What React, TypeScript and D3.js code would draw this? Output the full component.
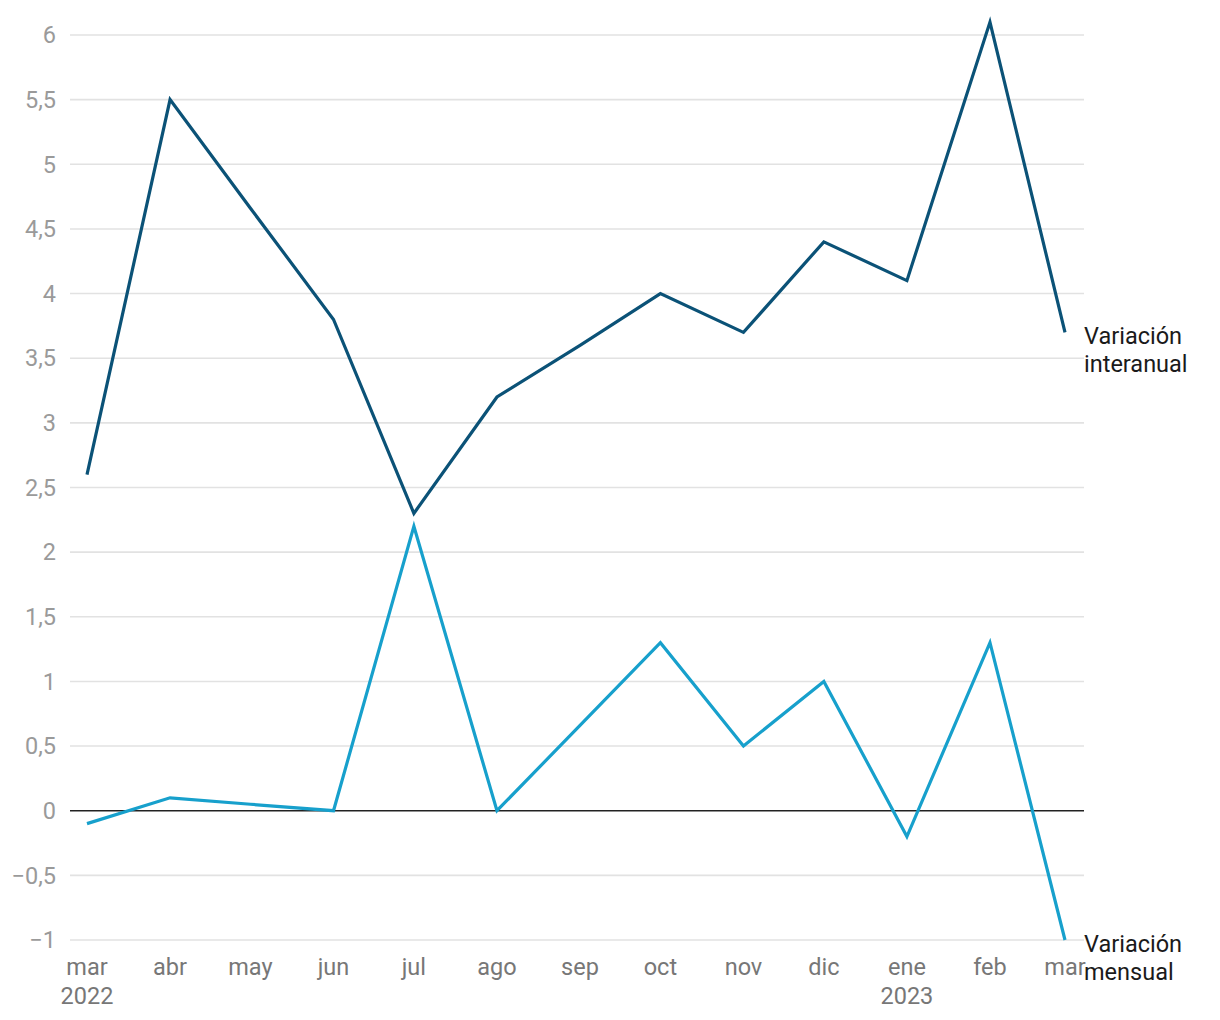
import React from 'react';
import * as d3 from 'd3';

const months = ['2022-03', '2022-04', '2022-05', '2022-06', '2022-07', '2022-08', '2022-09', '2022-10', '2022-11', '2022-12', '2023-01', '2023-02', '2023-03'];
const monthLabels = ['mar', 'abr', 'may', 'jun', 'jul', 'ago', 'sep', 'oct', 'nov', 'dic', 'ene', 'feb', 'mar'];
const yearLabels = ['2022', '', '', '', '', '', '', '', '', '', '2023', '', ''];
const interanual = [2.6, 5.5, 4.66, 3.8, 2.3, 3.2, 3.6, 4.0, 3.7, 4.4, 4.1, 6.1, 3.7];
const mensual = [-0.1, 0.1, 0.05, 0.0, 2.2, 0.0, 0.66, 1.3, 0.5, 1.0, -0.2, 1.3, -1.0];
const yTicks = [-1, -0.5, 0, 0.5, 1, 1.5, 2, 2.5, 3, 3.5, 4, 4.5, 5, 5.5, 6];

const W = 1220;
const H = 1020;
const left = 70;
const right = 1084;

const fmt = (v: number) => (v < 0 ? '\u2212' : '') + String(Math.abs(v)).replace('.', ',');

const App = () => {
  const parse = d3.timeParse('%Y-%m');
  const dates = months.map(m => parse(m) as Date);

  const x = d3.scaleTime()
    .domain([dates[0], dates[dates.length - 1]])
    .range([87, 1065]);

  const y = d3.scaleLinear()
    .domain([-1, 6])
    .range([940, 35]);

  const line = d3.line<number>()
    .x((_, i) => x(dates[i]))
    .y(d => y(d));

  const font = 'Roboto, sans-serif';
  const fs = 23.5;

  return (
    <svg width={W} height={H} style={{ position: 'absolute', left: 0, top: 0 }} fontFamily={font}>
      <rect width={W} height={H} fill="#fff" />
      {yTicks.map(t => (
        <g key={t}>
          <line x1={left} x2={right} y1={y(t)} y2={y(t)} stroke={t === 0 ? '#222' : '#e2e2e2'} strokeWidth={1.6} />
          <text x={56} y={y(t)} dy="0.35em" textAnchor="end" fontSize={fs} fill="#9a9a9a">{fmt(t)}</text>
        </g>
      ))}
      {dates.map((d, i) => (
        <g key={i}>
          <text x={x(d)} y={975} textAnchor="middle" fontSize={fs} fill="#777">{monthLabels[i]}</text>
          {yearLabels[i] && (
            <text x={x(d)} y={1004} textAnchor="middle" fontSize={fs} fill="#777">{yearLabels[i]}</text>
          )}
        </g>
      ))}
      <path d={line(interanual) ?? ''} fill="none" stroke="#0b5277" strokeWidth={3.2} strokeLinejoin="miter" />
      <path d={line(mensual) ?? ''} fill="none" stroke="#17a0cc" strokeWidth={3.2} strokeLinejoin="miter" />
      <text x={1084} y={y(interanual[interanual.length - 1]) + 12} fontSize={fs} fill="#1a1a1a">
        <tspan x={1084}>Variación</tspan>
        <tspan x={1084} dy={28}>interanual</tspan>
      </text>
      <text x={1084} y={y(mensual[mensual.length - 1]) + 12} fontSize={fs} fill="#1a1a1a">
        <tspan x={1084}>Variación</tspan>
        <tspan x={1084} dy={28}>mensual</tspan>
      </text>
    </svg>
  );
};

export default App;
